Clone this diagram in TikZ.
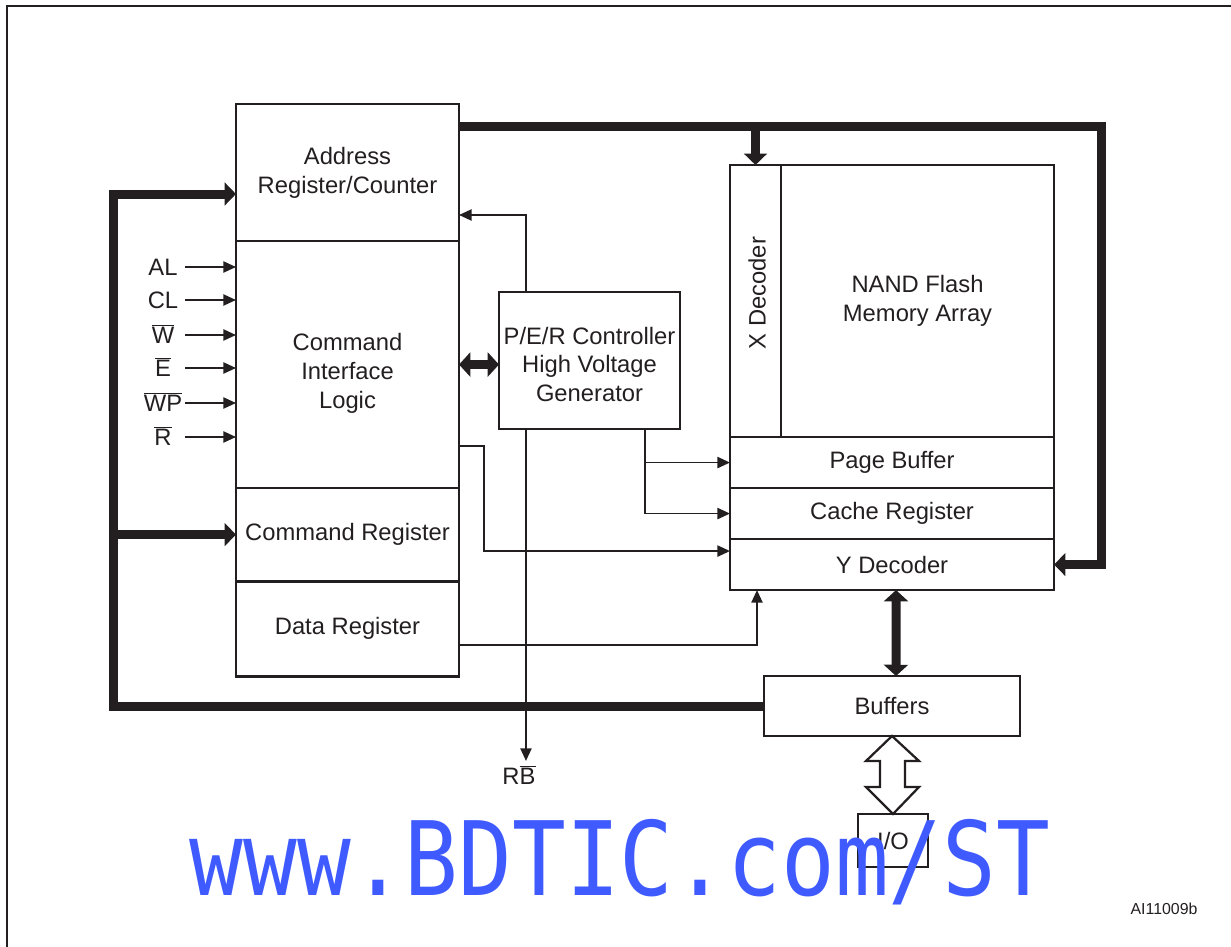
\documentclass[tikz,border=0pt]{standalone}
\usepackage{fontspec}
\setmainfont{Liberation Sans}
\newfontfamily\markfont{DejaVu Sans Mono}
\usetikzlibrary{arrows.meta, positioning, calc}
\definecolor{inkblack}{HTML}{231F20}
\definecolor{markblue}{HTML}{3F5BFF}
\newcommand{\ovl}[1]{$\overline{\hbox{#1}}$}

\begin{document}
\begin{tikzpicture}[x=0.025cm, y=-0.025cm,
    blk/.style={draw=inkblack, line width=2pt, inner sep=0pt, outer sep=0pt,
      align=center, text=inkblack, font=\fontsize{16.9}{20.6}\selectfont},
    txt/.style={align=center, text=inkblack,
      font=\fontsize{16.9}{20.6}\selectfont},
    pin/.style={inner sep=0pt, minimum width=1.1cm, text height=12pt,
      text depth=0pt, text=inkblack, font=\fontsize{16.9}{20.6}\selectfont},
    wire/.style={draw=inkblack, line width=1.2pt,
      -{Triangle[length=9pt,width=8pt]}},
    bus/.style={draw=inkblack, line width=6.4pt,
      -{Triangle[length=8pt,width=16pt]}},
    bibus/.style={bus, {Triangle[length=8pt,width=17pt]}-{Triangle[length=8pt,width=17pt]}}
  ]
  \useasboundingbox (0,0) rectangle (1231,947);
  % frame
  \draw[inkblack, line width=1.6pt] (7,947) -- (7,6) -- (1231,6);

  % left column
  \node[blk, minimum width=5.575cm, minimum height=3.425cm] (addr)
    at (347.5,172.5) {Address\\Register/Counter};
  \node[blk, minimum width=5.575cm, minimum height=6.175cm,
    below=0pt of addr] (cil) {};
  \node[txt] (cillab) at ($(cil)+(0,9)$) {Command\\Interface\\Logic};
  \node[blk, minimum width=5.575cm, minimum height=2.325cm,
    below=0pt of cil] (cmdreg) {Command Register};
  \node[blk, minimum width=5.575cm, minimum height=2.375cm,
    below=0pt of cmdreg] (dreg) {Data Register};

  % controller
  \node[blk, minimum width=4.525cm, minimum height=3.425cm] (per)
    at (589.5,360.5) {};
  \node[txt] (perlab) at ($(per)+(0,4)$)
    {P/E/R Controller\\High Voltage\\Generator};

  % memory array
  \node[blk, minimum width=1.275cm, minimum height=6.8cm] (xdec)
    at (755.5,301) {};
  \node[txt, rotate=90] (xlab) at (757,293) {X Decoder};
  \node[blk, minimum width=6.825cm, minimum height=6.8cm,
    right=0pt of xdec] (nand) {NAND Flash\\Memory Array};
  \node[blk, minimum width=8.1cm, minimum height=1.275cm,
    below right=0pt and 0pt of xdec.south west] (pbuf) {Page Buffer};
  \node[blk, minimum width=8.1cm, minimum height=1.275cm,
    below=0pt of pbuf] (cache) {Cache Register};
  \node[blk, minimum width=8.1cm, minimum height=1.275cm,
    below=0pt of cache] (ydec) {Y Decoder};

  % buffers and I/O
  \node[blk, minimum width=6.4cm, minimum height=1.5cm] (buf)
    at (892,706) {Buffers};
  \node[blk, minimum width=1.75cm, minimum height=1.325cm] (io)
    at (893,840.5) {I/O};

  % control pins
  \foreach \pinlab/\py [count=\k] in {AL/267, CL/300, \ovl{W}/335,
      \ovl{E}/368, \ovl{WP}/403, \ovl{R}/437}{
    \node[pin] (pin\k) at (163,\py) {\pinlab};
    \draw[wire] (pin\k.east) -- (pin\k.east -| cil.west);
  }

  % buses
  \coordinate (lbus) at (113,706);
  \coordinate (rbus) at (1101,126);
  \draw[bus] (buf.west) -- (lbus) |- ($(addr.west)+(0,21.5)$);
  \draw[bus] (cmdreg.west -| lbus) -- (cmdreg.west);
  \draw[bus] (addr.east |- rbus) -- (rbus) |- (ydec.east);
  \draw[bus] (xdec.north |- rbus) -- (xdec.north);
  \draw[bibus] (cil.east) -- (cil.east -| per.west);
  \draw[bibus] ($(ydec.south)+(4,0)$) -- ($(buf.north)+(4,0)$);

  % thin signals
  \draw[wire] ($(per.north west)+(27,0)$) |- ($(addr.east)+(0,42.5)$);
  \coordinate (rbtap) at ($(per.south west)+(27,0)$);
  \node[txt, inner sep=3pt] (rb) at (519,775) {R\ovl{B}};
  \draw[wire] (rbtap) -- (rbtap |- rb.north);
  \coordinate (pertap) at ($(per.south west)+(146,0)$);
  \draw[wire] (pertap) |- (pbuf.west);
  \draw[wire] (pertap) |- (cache.west);
  \draw[wire] ($(cil.east)+(0,81.5)$) -- ++(25,0) |- ($(ydec.west)+(0,-13.5)$);
  \draw[wire] ($(dreg.east)+(0,16.5)$) -| ($(ydec.south west)+(27,0)$);

  % hollow double arrow
  \draw[inkblack, fill=white, line width=1.6pt]
    (buf.south) -- ++(27,25) -- ++(-14,0) -- ++(0,26) -- ++(14,0)
    -- (io.north) -- ++(-27,-27) -- ++(14,0) -- ++(0,-26) -- ++(-14,0)
    -- cycle;

  \node[text=inkblack, font=\fontsize{11.3}{13}\selectfont] (fig)
    at (1164,909) {AI11009b};

  % watermark
  \node[text=markblue, font=\markfont\fontsize{73}{73}\selectfont,
    xscale=0.87, anchor=base, inner sep=0pt] (mark) at (620,895)
    {www.BDTIC.com/ST};
\end{tikzpicture}
\end{document}
